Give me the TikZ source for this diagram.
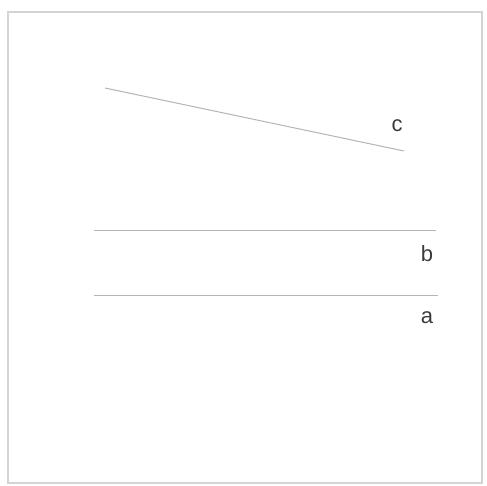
\documentclass[tikz,border=0pt]{standalone}
\usepackage{fontspec}
\setmainfont{Liberation Sans}
\usepackage{tikz}
\usetikzlibrary{positioning}
\definecolor{FrameGray}{HTML}{D4D4D4}
\definecolor{LineGray}{HTML}{B4B4B4}
\definecolor{LabelGray}{HTML}{3C3C3C}
\tikzset{
    frame/.style={draw=FrameGray, line width=1.2pt},
    seg/.style={draw=LineGray, line width=1pt},
    lbl/.style={inner sep=0pt, text=LabelGray, font=\fontsize{22}{22}\selectfont}
}

\begin{document}
\begin{tikzpicture}[x=1pt, y=-1pt]
    \useasboundingbox (0,0) rectangle (487,486);
    % Frame
    \draw[frame] (8,12) rectangle (482,483);

    % Line c (slanted)
    \coordinate (c1) at (105,88);
    \coordinate (c2) at (404,151);
    \draw[seg] (c1) -- (c2);
    \node[lbl] (labc) at (397,126) {c};

    % Line b
    \coordinate (b1) at (94,231);
    \coordinate (b2) at (436,231);
    \draw[seg] (b1) -- (b2);
    \node[lbl] (labb) at (427,254) {b};

    % Line a
    \coordinate (a1) at (94,295);
    \coordinate (a2) at (438,295);
    \draw[seg] (a1) -- (a2);
    \node[lbl] (laba) at (427,318) {a};
\end{tikzpicture}
\end{document}
